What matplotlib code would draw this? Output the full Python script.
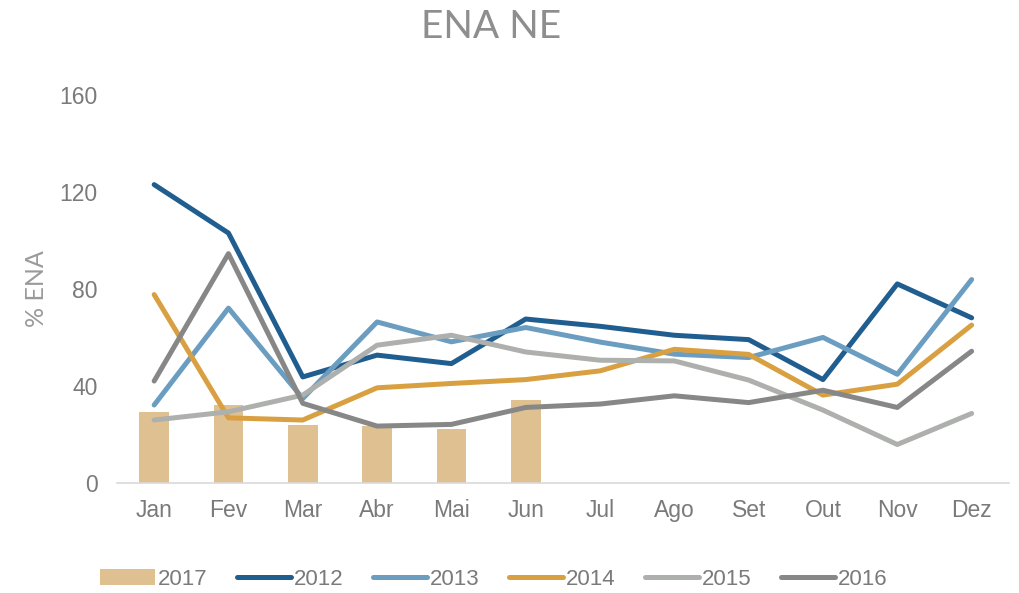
import numpy as np
from matplotlib import pyplot as plt

plt.rcParams['font.family'] = ['Liberation Sans', 'DejaVu Sans']

# dados
meses = ['Jan', 'Fev', 'Mar', 'Abr', 'Mai', 'Jun', 'Jul', 'Ago', 'Set', 'Out', 'Nov', 'Dez']
ena_2017 = [29.2, 32.2, 23.6, 23.5, 22.3, 34.1]
ena_2012 = [123, 103, 43.6, 52.6, 49.1, 67.5, 64.5, 60.8, 59, 42.5, 82, 68]
ena_2013 = [32, 72, 34.7, 66.3, 58.1, 64, 58, 53, 51.6, 59.9, 44.7, 83.8]
ena_2014 = [77.6, 26.7, 25.8, 39.1, 40.9, 42.5, 46.1, 55, 52.9, 36.1, 40.6, 65]
ena_2015 = [25.8, 29.2, 36.1, 56.7, 60.8, 53.9, 50.5, 50.2, 42.3, 29.9, 15.7, 28.5]
ena_2016 = [41.9, 94.5, 32.7, 23.3, 24, 31, 32.4, 35.8, 33, 38.1, 31, 54.2]
yticks = [0, 40, 80, 120, 160]

series = [
    ('2012', ena_2012, '#215e90'),
    ('2013', ena_2013, '#6b9dc1'),
    ('2014', ena_2014, '#d9a042'),
    ('2015', ena_2015, '#aeb0ad'),
    ('2016', ena_2016, '#878787'),
]

fig = plt.figure(figsize = (10.2, 5.93), dpi = 100)
ax = fig.add_axes([0.1147, 0.1863, 0.8743, 0.6535])

x = np.arange(len(meses))
ax.bar(x[:len(ena_2017)], ena_2017, width = 0.4, color = '#dfc191', label = '2017', zorder = 1)
for name, values, color in series:
    ax.plot(x, values, color = color, linewidth = 3.6, solid_capstyle = 'round', label = name, zorder = 2)

ax.set_xlim(-0.5, len(meses) - 0.5)
ax.set_ylim(0, 160)
ax.set_xticks(x)
ax.set_xticklabels(meses)
ax.set_yticks(yticks)
ax.tick_params(axis = 'both', length = 0, labelsize = 16.5, labelcolor = '#7a7a7a')
ax.tick_params(axis = 'x', pad = 12)
ax.tick_params(axis = 'y', pad = 14)

for side in ['left', 'right', 'top']:
    ax.spines[side].set_visible(False)
ax.spines['bottom'].set_color('#d9d9d9')
ax.spines['bottom'].set_linewidth(1.2)

# 标题与纵轴标签
ax.set_ylabel('% ENA', fontsize = 18, color = '#9a9a9a', family = ['Lato', 'DejaVu Sans'],
              fontweight = 'normal', labelpad = 8)
fig.text(0.481, 0.955, 'ENA NE', ha = 'center', va = 'center', fontsize = 28, color = '#8e8e8e',
         family = ['Lato', 'DejaVu Sans'], fontweight = 'normal')

handles, labels = ax.get_legend_handles_labels()
order = [labels.index(l) for l in ['2017', '2012', '2013', '2014', '2015', '2016']]
ax.legend([handles[i] for i in order], [labels[i] for i in order],
          loc = 'center', bbox_to_anchor = (0.423, -0.249), ncol = 6, frameon = False,
          fontsize = 16, labelcolor = '#7a7a7a', handlelength = 2.45, handletextpad = 0.14,
          columnspacing = 1.3, borderaxespad = 0, borderpad = 0)

fig.savefig('out.png', dpi = 100)
